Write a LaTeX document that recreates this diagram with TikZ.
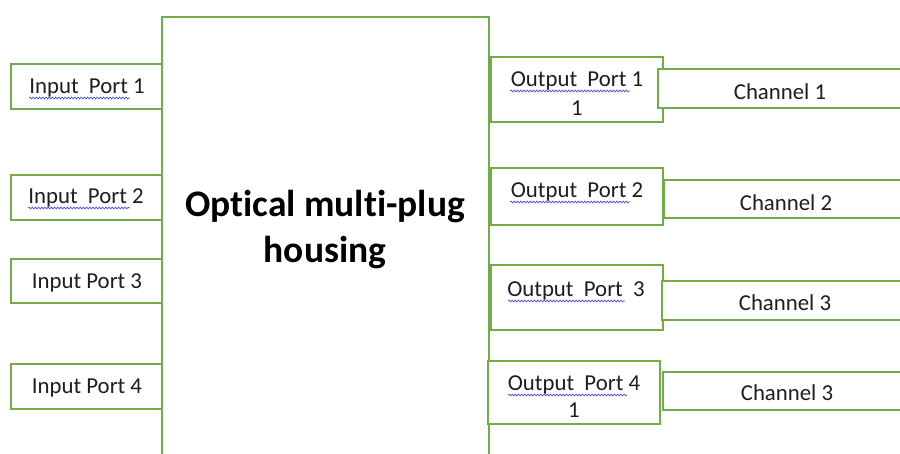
\documentclass[tikz,border=0pt]{standalone}
\usepackage{fontspec}
\setmainfont{Carlito}[Ligatures=NoCommon]
\usetikzlibrary{decorations.pathmorphing}
\definecolor{ogreen}{RGB}{112,173,71}
\definecolor{txt}{RGB}{30,30,30}
\definecolor{spell}{RGB}{70,80,220}
\tikzset{
  box/.style={draw=ogreen, line width=2.8pt, fill=white, rectangle, inner sep=0pt, outer sep=0pt, anchor=north west},
  lbl/.style={text=txt, inner sep=0pt, font=\fontsize{22.8}{28}\selectfont, align=center},
  ttl/.style={text=black, inner sep=0pt, font=\bfseries\fontsize{37.5}{47}\selectfont, align=center},
  wavy/.style={draw=spell, line width=0.7pt, decorate, decoration={snake, amplitude=0.9pt, segment length=3.2pt}}
}
\begin{document}
\begin{tikzpicture}[x=1pt,y=-1pt]
\path[use as bounding box] (0,0) rectangle (900,454);
\clip (0,0) rectangle (900,454);
% main housing
\node[box, minimum width=327pt, minimum height=460pt] (main) at (162,17) {};
\node[ttl] (title) at (325,230) {Optical multi-plug\\[-1pt]housing};
% input ports
\node[box, minimum width=151pt, minimum height=45pt] (ip1) at (11,64) {};
\node[box, minimum width=151pt, minimum height=45pt] (ip2) at (11,175) {};
\node[box, minimum width=151pt, minimum height=44pt] (ip3) at (11,259) {};
\node[box, minimum width=151pt, minimum height=45pt] (ip4) at (11,364) {};
\node[lbl] (tip1) at (87,88) {Input\ \ Port 1};
\node[lbl] (tip2) at (86,198) {Input\ \ Port 2};
\node[lbl] (tip3) at (87,283) {Input Port 3};
\node[lbl] (tip4) at (87,388) {Input Port 4};
% output ports
\node[box, minimum width=172pt, minimum height=65pt] (op1) at (491,57) {};
\node[box, minimum width=172pt, minimum height=57pt] (op2) at (491,168) {};
\node[box, minimum width=172pt, minimum height=65pt] (op3) at (491,265) {};
\node[box, minimum width=172pt, minimum height=63pt] (op4) at (488,361) {};
% channels
\node[box, minimum width=260pt, minimum height=39pt] (ch1) at (658,69) {};
\node[box, minimum width=260pt, minimum height=38pt] (ch2) at (664,180) {};
\node[box, minimum width=260pt, minimum height=39pt] (ch3) at (662,281) {};
\node[box, minimum width=260pt, minimum height=38pt] (ch4) at (663,372) {};
% output labels
\node[lbl] (top1) at (577,81) {Output\ \ Port 1};
\node[lbl] (top1b) at (577,108) {1};
\node[lbl] (top2) at (577,192) {Output\ \ Port 2};
\node[lbl] (top3) at (576,291) {Output\ \ Port\ \ 3};
\node[lbl] (top4) at (574,385) {Output\ \ Port 4};
\node[lbl] (top4b) at (574,410) {1};
% channel labels
\node[lbl] (tch1) at (780,92) {Channel 1};
\node[lbl] (tch2) at (786,203) {Channel 2};
\node[lbl] (tch3) at (785,303) {Channel 3};
\node[lbl] (tch4) at (787,393) {Channel 3};
% spell-check underlines
\draw[wavy] (29,98) -- (130,98);
\draw[wavy] (28,208) -- (130,208);
\draw[wavy] (510,91) -- (630,91);
\draw[wavy] (510,202) -- (630,202);
\draw[wavy] (508,301) -- (625,301);
\draw[wavy] (508,395) -- (627,395);
\end{tikzpicture}
\end{document}
